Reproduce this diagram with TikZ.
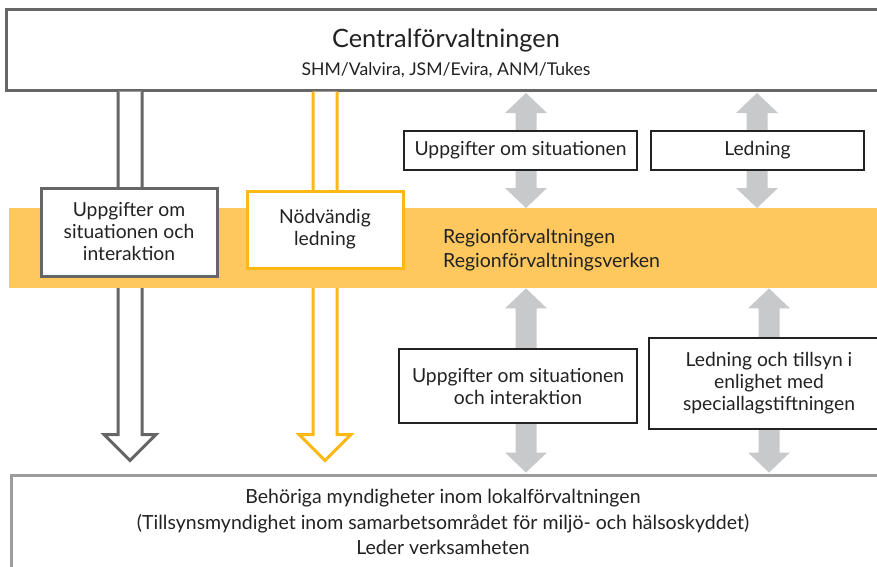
\documentclass[tikz,border=0pt]{standalone}
\usepackage{fontspec}
\setmainfont{Lato}
\usetikzlibrary{calc}
\definecolor{frame}{HTML}{666666}
\definecolor{amber}{HTML}{FDB913}
\definecolor{bandfill}{HTML}{FEC85E}
\definecolor{duplexgray}{HTML}{C8C9CB}
\definecolor{lowframe}{HTML}{9C9C9C}
\definecolor{ink}{HTML}{222222}

% hollow block arrow: #1 style, #2 start of the shaft, #3 tip
\newcommand\hollowarrow[3]{%
  \draw[#1] let \p1=(#2), \p2=(#3) in
    (\x1-12,\y1) -- (\x1-12,\y2+26) -- (\x1-26,\y2+26) -- (\x2,\y2)
    -- (\x1+26,\y2+26) -- (\x1+12,\y2+26) -- (\x1+12,\y1);}
% filled double-headed block arrow between two points on one vertical
\newcommand\duplexarrow[2]{%
  \fill[duplexgray] let \p1=(#1), \p2=(#2) in
    (\x1,\y1) -- (\x1+21,\y1-20) -- (\x1+10.5,\y1-20) -- (\x1+10.5,\y2+20)
    -- (\x1+21,\y2+20) -- (\x2,\y2) -- (\x1-21,\y2+20) -- (\x1-10.5,\y2+20)
    -- (\x1-10.5,\y1-20) -- (\x1-21,\y1-20) -- cycle;}

\tikzset{
  txt/.style={font=\fontsize{19.3}{22}\selectfont, text=ink, align=center},
  infobox/.style={txt, draw=ink, line width=2pt, fill=white, inner sep=0pt},
  tier/.style={draw, line width=3pt, fill=white, inner sep=0pt},
}

\begin{document}
\begin{tikzpicture}[x=1pt,y=-1pt]
\useasboundingbox (0,0) rectangle (877,566);
\clip (0,0) rectangle (877,566);
\fill[white] (0,0) rectangle (877,566);

% central and local tiers
\node[tier, draw=frame, minimum width=880pt, minimum height=81pt]
  (central) at (446,49.5) {};
\node[font=\fontsize{25.3}{30}\selectfont, text=ink, inner sep=0pt]
  (centraltitle) at (446,40) {Centralförvaltningen};
\node[font=\fontsize{17.6}{20}\selectfont, text=ink, inner sep=0pt]
  (centralsub) at (446,70) {SHM/Valvira, JSM/Evira, ANM/Tukes};
\node[tier, draw=lowframe, minimum width=900pt, minimum height=140pt,
      anchor=north west] (local) at (9.5,473.5) {};
\node[font=\fontsize{19.5}{25.5}\selectfont, text=ink, align=center]
  (localtext) at (443,522)
  {Behöriga myndigheter inom lokalförvaltningen\\
   (Tillsynsmyndighet inom samarbetsområdet för miljö- och hälsoskyddet)\\
   Leder verksamheten};

% columns of the vertical arrows
\coordinate (colG) at (130,0);
\coordinate (colY) at (325,0);
\coordinate (colA) at (526,0);
\coordinate (colB) at (757,0);
\coordinate (colC) at (526,0);
\coordinate (colD) at (769,0);

% hollow arrows from central to local tier (under the band)
\hollowarrow{draw=frame, line width=3pt, fill=white}
  {colG |- central.south}{$(colG |- local.north)+(0,-13)$}
\hollowarrow{draw=amber, line width=3pt, fill=white}
  {colY |- central.south}{$(colY |- local.north)+(0,-13)$}

% regional band
\node[fill=bandfill, minimum width=900pt, minimum height=80pt,
      anchor=north west, inner sep=0pt] (band) at (9,208) {};
\node[font=\fontsize{19.5}{24}\selectfont, text=ink, align=left, anchor=west,
      inner sep=0pt] (regtext) at (443,250)
  {Regionförvaltningen\\Regionförvaltningsverken};

% two-way arrows
\duplexarrow{$(colA |- central.south)+(0,1.5)$}{colA |- band.north}
\duplexarrow{$(colB |- central.south)+(0,1.5)$}{colB |- band.north}
\duplexarrow{colC |- band.south}{$(colC |- local.north)+(0,-1)$}
\duplexarrow{colD |- band.south}{$(colD |- local.north)+(0,-1)$}

% boxes on the arrows
\node[txt, draw=frame, line width=3pt, fill=white, inner sep=0pt,
      minimum width=176pt, minimum height=88pt] (infoL) at (129,232)
  {Uppgifter om\\situationen och\\interaktion};
\node[txt, draw=amber, line width=3pt, fill=white, inner sep=0pt,
      minimum width=156pt, minimum height=77pt] (need) at (325,229.5)
  {Nödvändig\\ledning};
\node[infobox, minimum width=233pt, minimum height=39pt] (sitU) at (520.5,150.5)
  {Uppgifter om situationen};
\node[infobox, minimum width=213pt, minimum height=39pt] (ledU) at (757.5,150.5)
  {Ledning};
\node[infobox, minimum width=238pt, minimum height=74pt] (sitL) at (518,386)
  {Uppgifter om situationen\\och interaktion};
\node[infobox, minimum width=240pt, minimum height=91pt] (ledL) at (769,383.5)
  {Ledning och tillsyn i\\enlighet med\\speciallagstiftningen};
\end{tikzpicture}
\end{document}
